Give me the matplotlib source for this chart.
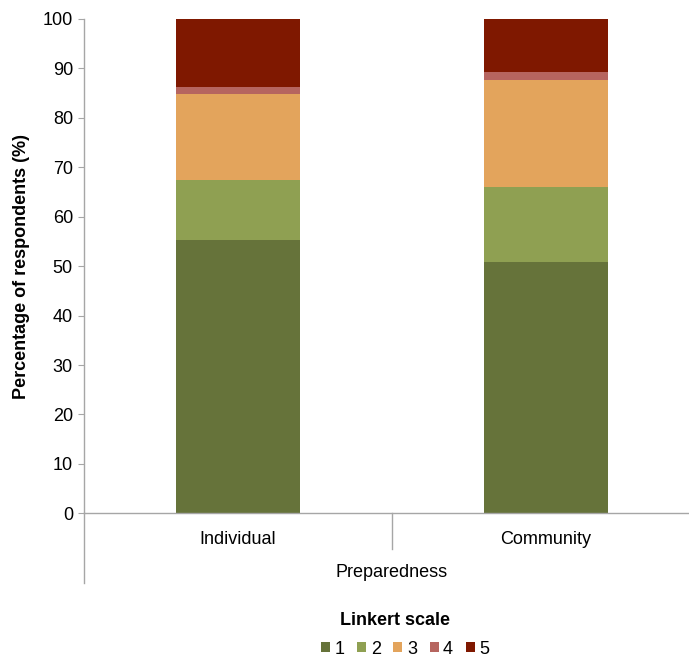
import numpy as np
import matplotlib.pyplot as plt

plt.rcParams['font.family'] = ['Liberation Sans', 'DejaVu Sans']

# data (percent of respondents per Likert level)
categories = ['Individual', 'Community']
levels = ['1', '2', '3', '4', '5']
level1 = [55.3, 50.8]
level2 = [12.2, 15.3]
level3 = [17.3, 21.6]
level4 = [1.4, 1.5]
level5 = [13.8, 10.8]
series = [level1, level2, level3, level4, level5]
colors = ['#66733A', '#8FA052', '#E3A45C', '#B6655F', '#7F1800']

fs = 13
fig = plt.figure(figsize=(6.89, 6.61), dpi=100)
ax = fig.add_axes([0.1219, 0.2234, 0.8781, 0.7479])

x = np.arange(len(categories))
bottom = np.zeros(len(categories))
for lab, vals, c in zip(levels, series, colors):
    ax.bar(x, vals, width=0.40, bottom=bottom, color=c, label=lab, zorder=2)
    bottom += np.array(vals)

ax.set_xlim(-0.5, 1.464)
ax.set_ylim(0, 100)
ax.set_yticks(range(0, 101, 10))
ax.set_xticks(x)
ax.set_xticklabels(categories, fontsize=fs)

grey = '#A6A6A6'
for s in ['top', 'right']:
    ax.spines[s].set_visible(False)
for s in ['left', 'bottom']:
    ax.spines[s].set_color(grey)
    ax.spines[s].set_linewidth(1.0)
ax.tick_params(axis='y', labelsize=fs, color=grey, length=4, pad=4)
ax.tick_params(axis='x', length=0, pad=13)

# excel-style multi-level category axis lines
ax.plot([0, 0], [0, -0.141], transform=ax.transAxes, color=grey, lw=1.0, clip_on=False)
ax.plot([0.5, 0.5], [0, -0.072], transform=ax.get_xaxis_transform(), color=grey, lw=1.0, clip_on=False)
ax.text(0.5, -0.12, 'Preparedness', transform=ax.get_xaxis_transform(),
        ha='center', va='center', fontsize=fs)

ax.set_ylabel('Percentage of respondents (%)', fontsize=fs, fontweight='bold', labelpad=9)

fig.text(0.573, 0.061, 'Linkert scale', ha='center', va='center',
         fontsize=fs, fontweight='bold')
handles, labels = ax.get_legend_handles_labels()
fig.legend(handles, labels, loc='center', bbox_to_anchor=(0.588, 0.018), ncol=5, frameon=False,
           fontsize=fs, handlelength=0.5, handleheight=0.5, handletextpad=0.25,
           columnspacing=0.7, borderpad=0)

fig.savefig('out.png', dpi=100)
